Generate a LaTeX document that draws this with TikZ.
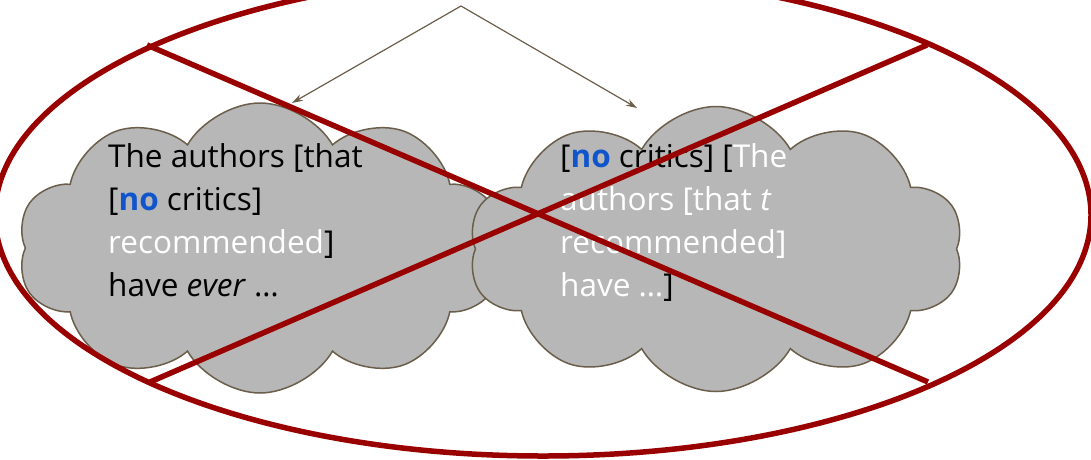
\documentclass[tikz,border=0pt]{standalone}
\usepackage{fontspec}
\setmainfont{Open Sans}
\usetikzlibrary{shapes.symbols,shapes.geometric,arrows.meta}
\definecolor{xred}{HTML}{990000}
\definecolor{brn}{HTML}{6B5E4A}
\definecolor{cfill}{HTML}{B7B7B7}
\definecolor{noblue}{HTML}{1155CC}
\tikzset{
  cloudbox/.style={cloud, cloud puffs=10, cloud puff arc=120, cloud ignores aspect,
    draw=brn, fill=cfill, line width=1.5pt, inner sep=0pt},
  txt/.style={anchor=base west, inner sep=0pt, font=\fontsize{31.5}{40}\selectfont},
  ptr/.style={draw=brn, line width=1.2pt, -{Stealth[length=11pt,width=7pt]}},
  cross/.style={draw=xred, line width=5.5pt},
}
\newcommand{\nob}{\textcolor{noblue}{\textbf{no}}}
\begin{document}
\begin{tikzpicture}[x=1pt,y=-1pt]
\useasboundingbox (0,0) rectangle (1091,459);
\node[cloudbox, minimum width=485pt, minimum height=290pt] (c1) at (260,248) {};
\node[cloudbox, minimum width=495pt, minimum height=285pt] (c2) at (716,249) {};
% left text
\node[txt] (l1) at (108,167) {The authors [that};
\node[txt] (l2) at (108,210) {[\nob{} critics]};
\node[txt] (l3) at (108,253) {\textcolor{white}{recommended}]};
\node[txt] (l4) at (108,296) {have \textit{ever} \dots};
% right text
\node[txt] (r1) at (560,167) {[\nob{} critics] [\textcolor{white}{The}};
\node[txt, text=white] (r2) at (560,210) {authors [that \textit{t}};
\node[txt, text=white] (r3) at (560,253) {recommended]};
\node[txt] (r4) at (560,296) {\textcolor{white}{have \dots}]};
% big ellipse and cross
\node[draw=xred, line width=5.5pt, ellipse, minimum width=1096pt, minimum height=482pt, inner sep=0pt] (ov) at (543,215) {};
\coordinate (ul) at (147,45);
\coordinate (lr) at (928,382);
\coordinate (ll) at (150,382);
\coordinate (ur) at (927,45);
\draw[cross] (ul) -- (lr);
\draw[cross] (ll) -- (ur);
% arrows
\coordinate (top) at (461,6);
\coordinate (a1) at (292,103);
\coordinate (a2) at (637,108);
\draw[ptr] (top) -- (a1);
\draw[ptr] (top) -- (a2);
\end{tikzpicture}
\end{document}
